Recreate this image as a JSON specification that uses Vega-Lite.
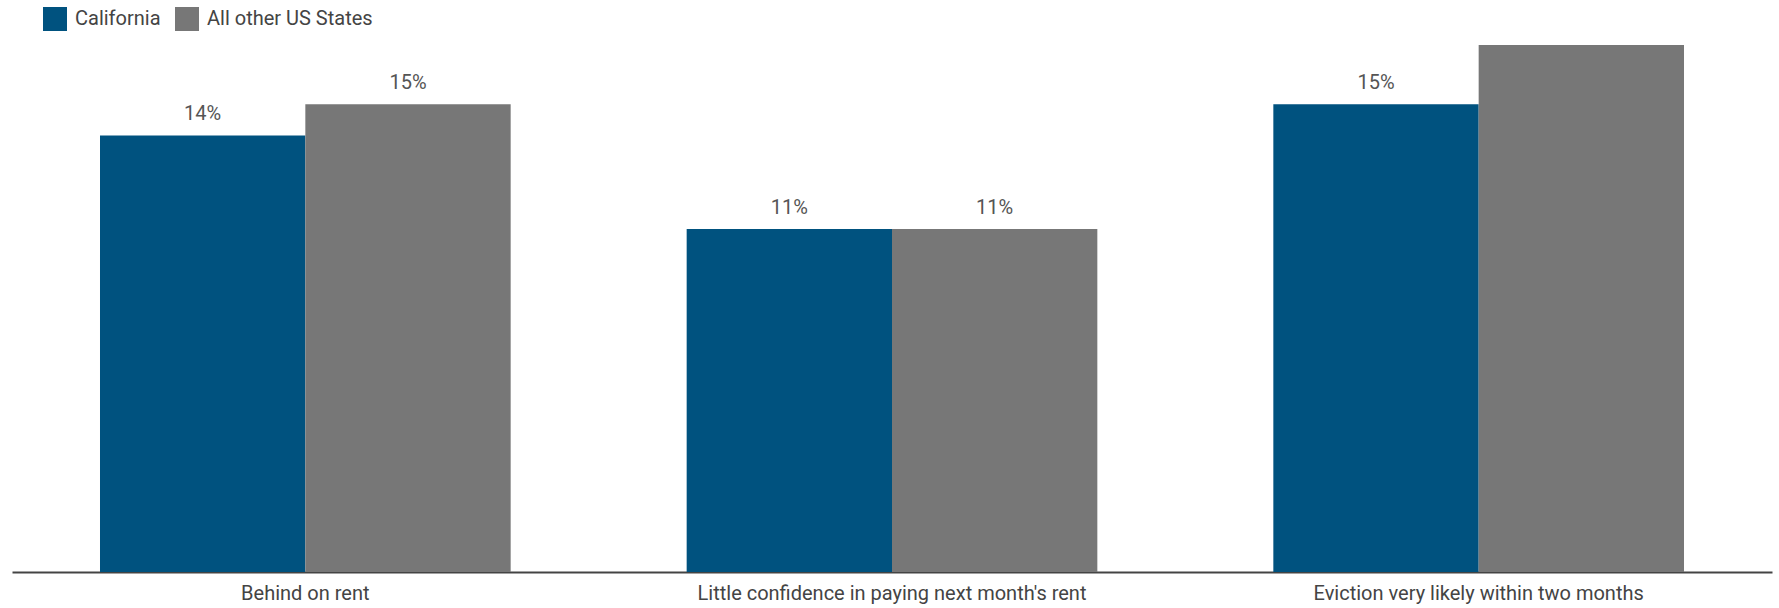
{
  "$schema": "https://vega.github.io/schema/vega-lite/v6.json",
  "width": 1760,
  "height": 527,
  "autosize": {"type": "none"},
  "padding": {"left": 12, "top": 45, "right": 7, "bottom": 36},
  "background": "white",
  "config": {
    "view": {"stroke": null},
    "font": "Roboto"
  },
  "data": {
    "values": [
      {"category": "Behind on rent", "group": "California", "value": 0.14},
      {"category": "Behind on rent", "group": "All other US States", "value": 0.15},
      {"category": "Little confidence in paying next month's rent", "group": "California", "value": 0.11},
      {"category": "Little confidence in paying next month's rent", "group": "All other US States", "value": 0.11},
      {"category": "Eviction very likely within two months", "group": "California", "value": 0.15},
      {"category": "Eviction very likely within two months", "group": "All other US States", "value": 0.169}
    ]
  },
  "encoding": {
    "x": {
      "field": "category",
      "type": "nominal",
      "sort": null,
      "scale": {"paddingInner": 0.3, "paddingOuter": 0.15},
      "axis": {
        "title": null,
        "labelAngle": 0,
        "labelFontSize": 20,
        "labelColor": "#444444",
        "labelPadding": 11,
        "labelLimit": 800,
        "ticks": false,
        "domainColor": "#444444",
        "domainWidth": 2,
        "labelFont": "Roboto"
      }
    },
    "xOffset": {
      "field": "group",
      "type": "nominal",
      "sort": ["California", "All other US States"],
      "scale": {"paddingInner": 0, "paddingOuter": 0}
    },
    "y": {
      "field": "value",
      "type": "quantitative",
      "scale": {"domain": [0, 0.169], "nice": false, "zero": true},
      "axis": null
    }
  },
  "layer": [
    {
      "mark": {"type": "bar"},
      "encoding": {
        "color": {
          "field": "group",
          "type": "nominal",
          "sort": ["California", "All other US States"],
          "scale": {"domain": ["California", "All other US States"], "range": ["#00527f", "#777777"]},
          "legend": {
            "title": null,
            "orient": "none",
            "direction": "horizontal",
            "legendX": 31,
            "legendY": -38,
            "padding": 0,
            "symbolType": "square",
            "symbolSize": 576,
            "symbolStrokeWidth": 0,
            "symbolOpacity": 1,
            "labelFontSize": 20,
            "labelFont": "Roboto",
            "labelColor": "#444444",
            "labelOffset": 8,
            "columnPadding": 14,
            "labelLimit": 300
          }
        }
      }
    },
    {
      "mark": {"type": "text", "baseline": "alphabetic", "dy": -15, "fontSize": 20, "color": "#555555", "clip": true, "font": "Roboto"},
      "encoding": {
        "text": {"field": "value", "type": "quantitative", "format": ".0%"}
      }
    }
  ]
}
